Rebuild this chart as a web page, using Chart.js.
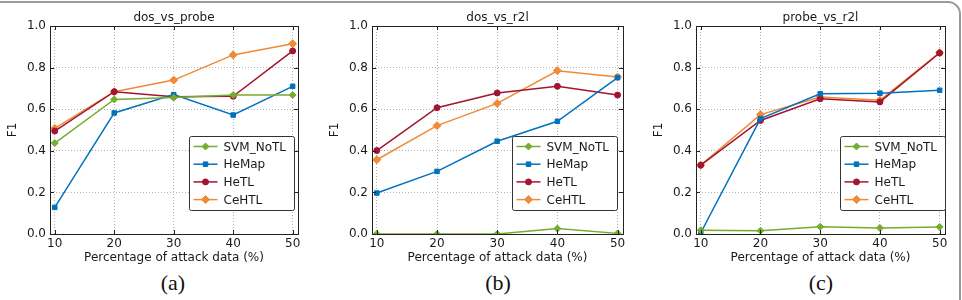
<!DOCTYPE html>
<html>
<head>
<meta charset="utf-8">
<script src="https://cdn.jsdelivr.net/npm/chart.js@4.4.0/dist/chart.umd.min.js"></script>
<style>
  html, body { margin: 0; padding: 0; background: #fff; }
  body { width: 962px; height: 300px; position: relative; overflow: hidden; }
  .frame { position: absolute; left: -20px; top: 1px; width: 981px; height: 400px; box-sizing: border-box; border: 2px solid #9a9a9a; border-radius: 13px; }
  .panel { position: absolute; top: 0; }
  .caption { position: absolute; top: 270px; width: 100px; text-align: center; font-family: 'Liberation Serif', serif; font-size: 22px; color: #111; }
</style>
</head>
<body>
<div class="frame"></div>
<canvas id="chartA" class="panel" width="310" height="270" style="left:0px"></canvas>
<canvas id="chartB" class="panel" width="313" height="270" style="left:322px"></canvas>
<canvas id="chartC" class="panel" width="311" height="270" style="left:646px"></canvas>
<div class="caption" style="left:123px">(a)</div>
<div class="caption" style="left:448px">(b)</div>
<div class="caption" style="left:771px">(c)</div>
<script>
const xValues = [10, 20, 30, 40, 50];
const yTicks = [0.0, 0.2, 0.4, 0.6, 0.8, 1.0];
const seriesNames = ['SVM_NoTL', 'HeMap', 'HeTL', 'CeHTL'];
const panelTitles = ['dos_vs_probe', 'dos_vs_r2l', 'probe_vs_r2l'];

// dos_vs_probe
const probeSvm = [0.437, 0.647, 0.656, 0.668, 0.668];
const probeHemap = [0.128, 0.582, 0.670, 0.572, 0.710];
const probeHetl = [0.495, 0.684, 0.660, 0.662, 0.880];
const probeCehtl = [0.508, 0.684, 0.740, 0.861, 0.915];

// dos_vs_r2l
const r2lSvm = [0.0, 0.0, 0.0, 0.026, 0.003];
const r2lHemap = [0.197, 0.301, 0.446, 0.542, 0.752];
const r2lHetl = [0.401, 0.607, 0.678, 0.710, 0.668];
const r2lCehtl = [0.357, 0.521, 0.628, 0.785, 0.755];

// probe_vs_r2l
const prSvm = [0.018, 0.016, 0.035, 0.029, 0.034];
const prHemap = [0.006, 0.555, 0.674, 0.677, 0.691];
const prHetl = [0.331, 0.546, 0.650, 0.635, 0.870];
const prCehtl = [0.331, 0.574, 0.659, 0.643, 0.872];

const seriesColors = ['#77ac30', '#0072bd', '#a2142f', '#f08a35'];
const seriesMarkers = ['rectRot', 'rect', 'circle', 'rectRot'];
const markerSizes = [3.5, 3.2, 3, 4];

const fontFamily = "'DejaVu Sans', sans-serif";
const textColor = '#1a1a1a';

// frame, inward ticks and a legend box sitting inside the axes
const axesDecor = {
    id: 'axesDecor',
    afterDatasetsDraw(chart, args, opts) {
        const ctx = chart.ctx;
        const area = chart.chartArea;
        const xs = chart.scales.x, ys = chart.scales.y;
        ctx.save();
        ctx.strokeStyle = '#222';
        ctx.lineWidth = 1;
        ctx.beginPath();
        xValues.forEach(v => {
            const px = Math.round(xs.getPixelForValue(v)) + 0.5;
            ctx.moveTo(px, area.bottom); ctx.lineTo(px, area.bottom - 4);
            ctx.moveTo(px, area.top); ctx.lineTo(px, area.top + 4);
        });
        yTicks.forEach(v => {
            const py = Math.round(ys.getPixelForValue(v)) + 0.5;
            ctx.moveTo(area.left, py); ctx.lineTo(area.left + 4, py);
            ctx.moveTo(area.right, py); ctx.lineTo(area.right - 4, py);
        });
        ctx.stroke();
        ctx.strokeRect(Math.round(area.left) + 0.5, Math.round(area.top) + 0.5,
            Math.round(area.right - area.left), Math.round(area.bottom - area.top));

        // legend
        ctx.font = '12px ' + fontFamily;
        const textW = Math.max(...seriesNames.map(n => ctx.measureText(n).width));
        const w = Math.round(4 + 24 + 6 + textW + 8);
        const h = 74;
        const bx = Math.round(area.right - opts.right - w) + 0.5;
        const by = Math.round(area.bottom - 24 - h) + 0.5;
        ctx.fillStyle = '#fff';
        ctx.strokeStyle = '#333';
        ctx.beginPath();
        ctx.roundRect(bx, by, w, h, 2);
        ctx.fill();
        ctx.stroke();
        chart.data.datasets.forEach((ds, i) => {
            const cy = by + 10 + i * 17.7;
            ctx.strokeStyle = ds.borderColor;
            ctx.lineWidth = 1.5;
            ctx.beginPath();
            ctx.moveTo(bx + 4, cy); ctx.lineTo(bx + 28, cy);
            ctx.stroke();
            ctx.fillStyle = ds.borderColor;
            ctx.lineWidth = 1;
            Chart.helpers.drawPoint(ctx, { pointStyle: ds.pointStyle, radius: ds.pointRadius, rotation: 0, borderWidth: 1 }, bx + 16, cy);
            ctx.fillStyle = textColor;
            ctx.textBaseline = 'middle';
            ctx.textAlign = 'left';
            ctx.fillText(ds.label, bx + 34, cy + 1);
        });
        ctx.restore();
    }
};

function makeChart(id, title, values, legendRight) {
    const ctx = document.getElementById(id).getContext('2d');
    return new Chart(ctx, {
        type: 'line',
        data: {
            datasets: values.map((vals, i) => ({
                label: seriesNames[i],
                data: xValues.map((x, j) => ({ x: x, y: vals[j] })),
                borderColor: seriesColors[i],
                backgroundColor: seriesColors[i],
                pointBackgroundColor: seriesColors[i],
                pointBorderColor: seriesColors[i],
                pointStyle: seriesMarkers[i],
                pointRadius: markerSizes[i],
                pointBorderWidth: 1,
                borderWidth: 1.5,
                tension: 0
            }))
        },
        options: {
            responsive: false,
            animation: false,
            devicePixelRatio: 1,
            layout: { padding: { left: 0, right: 12, top: 0, bottom: 0 } },
            scales: {
                x: {
                    type: 'linear',
                    min: 9.2,
                    max: 50.9,
                    afterBuildTicks: s => { s.ticks = xValues.map(v => ({ value: v })); },
                    afterFit: s => { s.height = 36; },
                    grid: { color: 'rgba(0,0,0,0.3)', drawTicks: false },
                    border: { display: false, dash: [1, 2] },
                    ticks: { padding: 3, color: textColor, font: { family: fontFamily, size: 12 }, maxRotation: 0 },
                    title: {
                        display: true,
                        text: 'Percentage of attack data (%)',
                        color: textColor,
                        font: { family: fontFamily, size: 12 },
                        padding: { top: 0, bottom: 5 }
                    }
                },
                y: {
                    min: 0,
                    max: 1,
                    afterBuildTicks: s => { s.ticks = yTicks.map(v => ({ value: v })); },
                    afterFit: s => { s.width = 50; },
                    grid: { color: 'rgba(0,0,0,0.3)', drawTicks: false },
                    border: { display: false, dash: [1, 2] },
                    ticks: {
                        padding: 4,
                        color: textColor,
                        font: { family: fontFamily, size: 12 },
                        callback: v => Number(v).toFixed(1)
                    },
                    title: {
                        display: true,
                        text: 'F1',
                        color: textColor,
                        font: { family: fontFamily, size: 12 },
                        padding: { top: 6, bottom: 0 }
                    }
                }
            },
            plugins: {
                legend: { display: false },
                tooltip: { enabled: false },
                title: {
                    display: true,
                    text: title,
                    fullSize: false,
                    color: textColor,
                    font: { family: fontFamily, size: 12, weight: 'normal' },
                    padding: { top: 11, bottom: 0.6 }
                },
                axesDecor: { right: legendRight }
            }
        },
        plugins: [axesDecor]
    });
}

makeChart('chartA', panelTitles[0], [probeSvm, probeHemap, probeHetl, probeCehtl], 4);
makeChart('chartB', panelTitles[1], [r2lSvm, r2lHemap, r2lHetl, r2lCehtl], 6);
makeChart('chartC', panelTitles[2], [prSvm, prHemap, prHetl, prCehtl], 0);
</script>
</body>
</html>
